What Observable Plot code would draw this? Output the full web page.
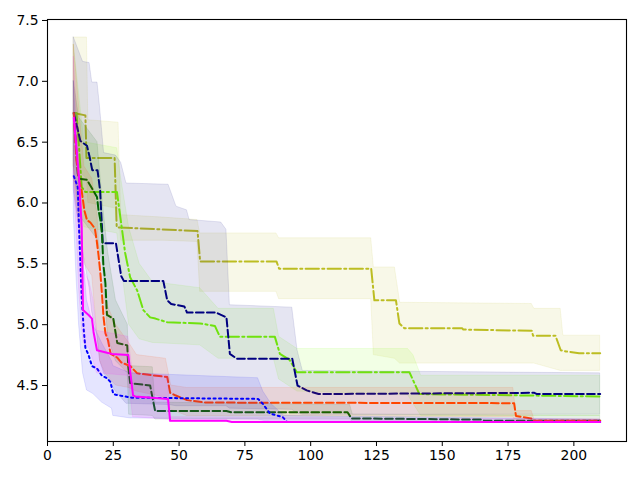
<!DOCTYPE html>
<html><head><meta charset="utf-8">
<script src="https://cdn.jsdelivr.net/npm/d3@7"></script>
<script src="https://cdn.jsdelivr.net/npm/@observablehq/plot@0.6"></script>
<style>body{margin:0;background:#fff} svg{display:block}</style>
</head><body><div id="chart"></div>
<script>
// ---- data ----
const xTicks = [0, 25, 50, 75, 100, 125, 150, 175, 200];
const yTicks = [4.5, 5.0, 5.5, 6.0, 6.5, 7.0, 7.5];

// olive, dash-dot
const oliveX    = [10, 14.4, 14.8, 25.5, 26.3, 57, 58, 87, 88, 123, 124.2, 132.4, 133.7, 135.6, 157.6, 158, 184, 184.5, 193, 195, 197, 202, 210];
const oliveMean = [6.74, 6.72, 6.37, 6.37, 5.80, 5.77, 5.52, 5.52, 5.46, 5.46, 5.20, 5.20, 5.01, 4.97, 4.97, 4.96, 4.95, 4.91, 4.91, 4.79, 4.78, 4.766, 4.766];
const oliveBandX = [10, 15, 15.5, 27, 28, 44, 57, 58, 87, 88, 123, 124, 132, 134, 184, 185, 195, 196, 210];
const oliveLo    = [6.30, 6.20, 6.00, 5.95, 5.69, 5.69, 5.68, 5.27, 5.27, 5.21, 5.21, 4.75, 4.72, 4.68, 4.68, 4.68, 4.62, 4.62, 4.62];
const oliveHi    = [7.36, 7.36, 6.68, 6.66, 5.90, 5.88, 5.86, 5.75, 5.75, 5.71, 5.71, 5.47, 5.47, 5.18, 5.17, 5.13, 5.13, 4.91, 4.91];

// lawngreen, dash-dot
const lawnX    = [10, 11, 12, 13, 14.4, 26.4, 27.7, 29.5, 31.4, 34.1, 36.4, 39, 41, 45.5, 58, 63.6, 65.5, 86.4, 88.3, 92, 94.7, 137.5, 139.4, 141.3, 210];
const lawnMean = [6.74, 6.74, 6.45, 6.13, 6.09, 6.09, 5.88, 5.59, 5.39, 5.28, 5.12, 5.06, 5.05, 5.02, 5.01, 4.99, 4.90, 4.90, 4.76, 4.71, 4.61, 4.61, 4.52, 4.43, 4.41];
const lawnBandX = [10, 12, 14, 26.5, 28, 31, 35, 40, 58, 65, 86, 88, 95, 137, 139, 142, 210];
const lawnLo    = [6.30, 6.00, 5.80, 5.75, 5.50, 5.00, 4.88, 4.85, 4.83, 4.72, 4.72, 4.55, 4.45, 4.42, 4.35, 4.25, 4.25];
const lawnHi    = [7.30, 6.90, 6.50, 6.45, 6.20, 5.80, 5.50, 5.35, 5.30, 5.13, 5.13, 4.90, 4.80, 4.80, 4.75, 4.58, 4.58];

// navy, dashed
const navyX    = [10, 12.5, 15, 16, 17, 19, 20, 21, 26, 28, 29, 44, 45.5, 47, 52, 53, 64, 68, 69.3, 72, 93, 95, 98.5, 103, 185, 186, 210];
const navyMean = [6.74, 6.51, 6.47, 6.38, 6.27, 6.27, 6.10, 5.67, 5.67, 5.40, 5.36, 5.36, 5.20, 5.17, 5.15, 5.10, 5.10, 5.06, 4.76, 4.72, 4.72, 4.50, 4.46, 4.43, 4.44, 4.43, 4.43];
const navyBandX = [10, 13.5, 16, 17, 19, 20, 21.5, 26, 28, 30, 46, 49, 53, 54, 66, 68, 69.3, 93, 95, 97, 210];
const navyLo    = [6.10, 5.60, 5.30, 5.10, 4.90, 4.70, 4.60, 4.45, 4.40, 4.35, 4.34, 4.33, 4.33, 4.33, 4.33, 4.33, 4.31, 4.30, 4.27, 4.26, 4.26];
const navyHi    = [7.36, 7.16, 7.15, 6.99, 6.99, 6.78, 6.41, 6.39, 6.33, 6.16, 6.15, 5.97, 5.94, 5.86, 5.84, 5.78, 5.16, 5.14, 4.79, 4.62, 4.60];

// darkgreen, dashed
const dgreenX    = [10, 11.5, 12, 15, 18.8, 19.4, 20.1, 20.7, 21.2, 22, 22.6, 25, 26.5, 30.3, 30.7, 31.4, 39, 40.9, 68, 70, 114, 115.5, 165, 166, 210];
const dgreenMean = [6.74, 6.24, 6.20, 6.19, 6.05, 5.94, 5.86, 5.75, 5.50, 5.34, 5.08, 5.05, 4.85, 4.83, 4.65, 4.52, 4.50, 4.29, 4.29, 4.28, 4.28, 4.23, 4.22, 4.21, 4.21];
const dgreenBandX = [10, 12, 19, 21, 23, 26, 30.5, 31, 40, 41, 115, 116, 210];
const dgreenLo    = [6.30, 5.90, 5.70, 5.50, 4.90, 4.70, 4.60, 4.26, 4.25, 4.22, 4.22, 4.20, 4.20];
const dgreenHi    = [7.00, 6.70, 6.50, 6.00, 5.60, 5.20, 5.00, 4.66, 4.65, 4.36, 4.34, 4.26, 4.25];

// orangered, dashed
const orangeX    = [10, 11, 12, 13, 14, 15, 16.3, 18, 18.7, 19.4, 20.1, 20.7, 21.3, 22, 23, 24, 26.5, 28, 31.4, 34.1, 45.5, 46.6, 48.5, 53, 60, 177.3, 178, 183.7, 185, 210];
const orangeMean = [6.74, 6.35, 6.19, 6.10, 5.94, 5.86, 5.84, 5.79, 5.69, 5.57, 5.42, 5.25, 5.06, 4.93, 4.87, 4.76, 4.73, 4.69, 4.66, 4.60, 4.57, 4.44, 4.42, 4.38, 4.36, 4.355, 4.25, 4.23, 4.21, 4.21];
const orangeBandX = [10, 12, 14, 17, 19, 20, 22, 26, 31, 34, 45, 47, 53, 177, 178, 184, 185, 210];
const orangeLo    = [6.20, 5.80, 5.50, 5.40, 4.90, 4.70, 4.60, 4.50, 4.48, 4.45, 4.40, 4.30, 4.25, 4.24, 4.20, 4.20, 4.20, 4.20];
const orangeHi    = [7.30, 6.80, 6.30, 6.20, 5.90, 5.50, 5.20, 5.00, 4.85, 4.75, 4.72, 4.50, 4.48, 4.48, 4.29, 4.29, 4.22, 4.22];

// blue, dotted
const blueX    = [10, 11.5, 12, 12.5, 13, 13.8, 14.4, 15.6, 16.9, 18.8, 20.7, 22.6, 23.9, 25, 26.9, 32, 80, 81.8, 84.5, 89.4, 91, 210];
const blueMean = [6.22, 6.13, 5.78, 5.50, 5.22, 4.95, 4.81, 4.75, 4.66, 4.64, 4.58, 4.56, 4.53, 4.43, 4.42, 4.40, 4.39, 4.35, 4.27, 4.24, 4.20, 4.20];
const blueBandX = [10, 11, 12, 13.5, 15, 17.4, 20.7, 24.5, 25, 31.4, 80, 82, 85, 90, 210];
const blueLo    = [5.90, 5.40, 5.00, 4.60, 4.46, 4.43, 4.36, 4.31, 4.25, 4.23, 4.22, 4.21, 4.20, 4.20, 4.20];
const blueHi    = [7.00, 6.60, 6.20, 5.60, 5.20, 5.00, 4.85, 4.70, 4.66, 4.60, 4.56, 4.45, 4.35, 4.25, 4.22];

// magenta, solid
const magentaX    = [10, 11, 12, 13, 13.5, 15.6, 16.9, 17.5, 18.8, 22.6, 24.5, 30.7, 32.5, 33.3, 39.7, 45.8, 46.6, 68, 70, 210];
const magentaMean = [6.70, 6.45, 6.20, 5.80, 5.12, 5.08, 5.05, 4.94, 4.79, 4.77, 4.76, 4.75, 4.42, 4.41, 4.40, 4.39, 4.21, 4.21, 4.20, 4.20];
const magentaBandX = [10, 11, 12, 13, 13.75, 16, 17.5, 18.8, 30.7, 32.5, 45.8, 46.6, 210];
const magentaLo    = [6.20, 5.80, 5.30, 5.00, 4.85, 4.80, 4.70, 4.60, 4.58, 4.24, 4.22, 4.20, 4.20];
const magentaHi    = [7.20, 6.80, 6.40, 6.00, 5.45, 5.35, 5.20, 4.95, 4.90, 4.60, 4.58, 4.24, 4.22];

// ---- build tables ----
const lineRows = (xs, ys) => xs.map((x, i) => ({x, y: ys[i]}));
const bandRows = (xs, lo, hi) => xs.map((x, i) => ({x, lo: lo[i], hi: hi[i]}));

const dashed = "7.7,3.3", dashdot = "13.3,3.3,2.1,3.3", dotted = "2.1,3.4";
const series = [
  {color: "#bcbd22", dash: dashdot, line: lineRows(oliveX, oliveMean),     band: bandRows(oliveBandX, oliveLo, oliveHi)},
  {color: "#7cfc00", dash: dashdot, line: lineRows(lawnX, lawnMean),       band: bandRows(lawnBandX, lawnLo, lawnHi)},
  {color: "#000080", dash: dashed,  line: lineRows(navyX, navyMean),       band: bandRows(navyBandX, navyLo, navyHi)},
  {color: "#006400", dash: dashed,  line: lineRows(dgreenX, dgreenMean),   band: bandRows(dgreenBandX, dgreenLo, dgreenHi)},
  {color: "#ff4500", dash: dashed,  line: lineRows(orangeX, orangeMean),   band: bandRows(orangeBandX, orangeLo, orangeHi)},
  {color: "#0000ff", dash: dotted,  line: lineRows(blueX, blueMean),       band: bandRows(blueBandX, blueLo, blueHi)},
  {color: "#ff00ff", dash: null,    line: lineRows(magentaX, magentaMean), band: bandRows(magentaBandX, magentaLo, magentaHi)}
];

const marks = [];
for (const s of series) {
  marks.push(Plot.areaY(s.band, {x: "x", y1: "lo", y2: "hi", fill: s.color, fillOpacity: 0.1,
    stroke: s.color, strokeOpacity: 0.1, strokeWidth: 1}));
  marks.push(Plot.line(s.line, {x: "x", y: "y", stroke: s.color, strokeWidth: 2,
    strokeDasharray: s.dash || undefined}));
}

const chart = Plot.plot({
  width: 640, height: 480,
  marginLeft: 47, marginRight: 14, marginTop: 19, marginBottom: 39,
  style: {fontFamily: "DejaVu Sans, sans-serif", fontSize: "13.9px", background: "#fff", color: "#000"},
  x: {domain: [0, 220]},
  y: {domain: [4.04, 7.508]},
  marks: [
    ...marks,
    Plot.axisX({ticks: xTicks, tickSize: 5, tickPadding: 4, label: null, fontSize: 13.9}),
    Plot.axisY({ticks: yTicks, tickSize: 5, tickPadding: 4, label: null, fontSize: 13.9, tickFormat: d3.format(".1f")}),
    Plot.frame({stroke: "#000", strokeWidth: 1.1})
  ]
});
document.getElementById("chart").appendChild(chart);
</script>
</body></html>
